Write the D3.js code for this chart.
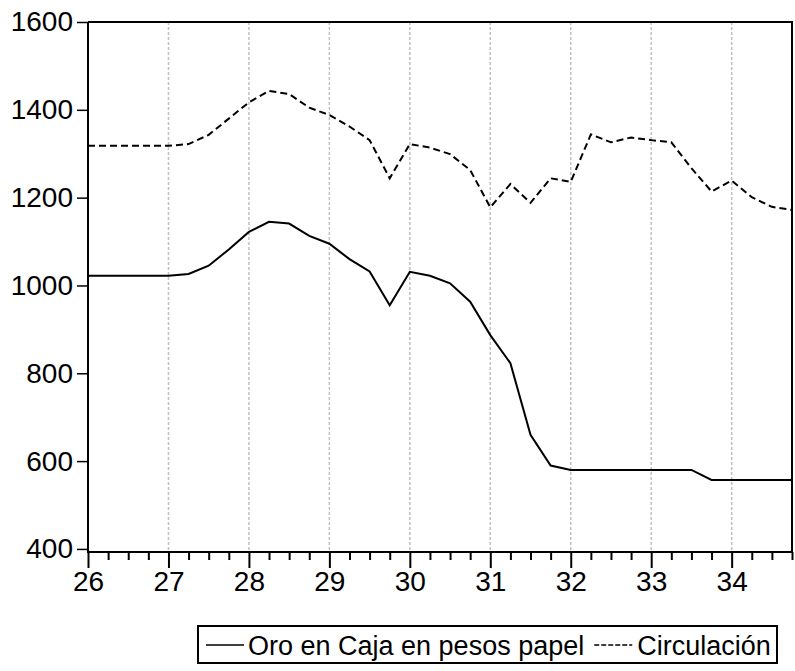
<!DOCTYPE html>
<html>
<head>
<meta charset="utf-8">
<script src="https://cdn.jsdelivr.net/npm/d3@7"></script>
<style>
  body { margin: 0; background: #fff; }
  svg { display: block; font-family: "Liberation Sans", Arial, sans-serif; }
</style>
</head>
<body>
<svg id="chart" width="795" height="671"></svg>
<script>
// quarterly observations, 1926Q1 .. 1934Q4 (x = year + (q-1)/4)
var quarters = d3.range(36).map(function (i) { return 26 + i / 4; });

var oro = [1022, 1022, 1022, 1022, 1022, 1026, 1045, 1082, 1122, 1145, 1141, 1113,
           1095, 1060, 1032, 955, 1031, 1022, 1005, 963, 887, 823, 660, 590,
           580, 580, 580, 580, 580, 580, 580, 557, 557, 557, 557, 557];

var circulacion = [1318, 1318, 1318, 1318, 1318, 1322, 1343, 1380, 1417, 1443, 1436, 1405,
                   1388, 1362, 1331, 1244, 1322, 1314, 1299, 1263, 1178, 1231, 1188, 1244,
                   1236, 1344, 1326, 1337, 1331, 1326, 1267, 1214, 1239, 1201, 1179, 1172];

var yearTicks = [26, 27, 28, 29, 30, 31, 32, 33, 34];
var yTicks = [400, 600, 800, 1000, 1200, 1400, 1600];
var legendLabels = ["Oro en Caja en pesos papel", "Circulación"];

var plotLeft = 88, plotRight = 792, plotTop = 22, plotBottom = 552;
var fontFam = '"Liberation Sans", Arial, sans-serif';

var svg = d3.select('#chart');

var x = d3.scaleLinear()
  .domain([26, 34.75])
  .range([plotLeft, plotRight]);

var y = d3.scaleLinear()
  .domain([393, 1600])
  .range([plotBottom, plotTop]);

// vertical grid at each year
svg.append('g')
  .selectAll('line')
  .data(yearTicks.slice(1))
  .enter().append('line')
    .attr('x1', function (d) { return x(d); })
    .attr('x2', function (d) { return x(d); })
    .attr('y1', plotTop)
    .attr('y2', plotBottom)
    .attr('stroke', '#c0c0c0')
    .attr('stroke-width', 1.5)
    .attr('stroke-dasharray', '3,2');

// frame top / right
svg.append('path')
  .attr('d', 'M' + plotLeft + ',' + plotTop + 'H' + plotRight + 'V' + plotBottom)
  .attr('fill', 'none')
  .attr('stroke', '#000')
  .attr('stroke-width', 2);

// y axis
var yAxis = d3.axisLeft(y)
  .tickValues(yTicks)
  .tickSize(11)
  .tickPadding(4)
  .tickFormat(d3.format('d'));

var ga = svg.append('g')
  .attr('transform', 'translate(' + plotLeft + ',0)')
  .call(yAxis);
ga.select('.domain').remove();
ga.append('line')
  .attr('x1', 0).attr('x2', 0)
  .attr('y1', plotTop).attr('y2', plotBottom + 1)
  .attr('stroke', '#000').attr('stroke-width', 2);
ga.selectAll('.tick line').attr('stroke-width', 1.5);
ga.selectAll('.tick text')
  .attr('font-size', 28)
  .attr('font-family', fontFam)
  .attr('fill', '#000');

// x axis: minor quarter ticks then major year ticks
var gx = svg.append('g')
  .attr('transform', 'translate(0,' + plotBottom + ')');

var xMinor = d3.axisBottom(x)
  .tickValues(quarters.filter(function (d) { return d % 1 !== 0; }))
  .tickSize(8)
  .tickFormat('');
gx.append('g').call(xMinor)
  .call(function (g) { g.select('.domain').remove(); })
  .selectAll('.tick line').attr('stroke-width', 2);

var xMajor = d3.axisBottom(x)
  .tickValues(yearTicks)
  .tickSize(16)
  .tickPadding(3)
  .tickFormat(d3.format('d'));
var gm = gx.append('g').call(xMajor);
gm.select('.domain').remove();
gm.selectAll('.tick line').attr('stroke-width', 2);
gm.selectAll('.tick text')
  .attr('font-size', 28)
  .attr('font-family', fontFam)
  .attr('fill', '#000');

gx.append('line')
  .attr('x1', plotLeft - 1).attr('x2', plotRight + 1)
  .attr('y1', 0).attr('y2', 0)
  .attr('stroke', '#000').attr('stroke-width', 2);

// series
var line = d3.line()
  .x(function (d, i) { return x(quarters[i]); })
  .y(function (d) { return y(d); });

svg.append('path')
  .datum(circulacion)
  .attr('d', line)
  .attr('fill', 'none')
  .attr('stroke', '#000')
  .attr('stroke-width', 2)
  .attr('stroke-dasharray', '7,4');

svg.append('path')
  .datum(oro)
  .attr('d', line)
  .attr('fill', 'none')
  .attr('stroke', '#000')
  .attr('stroke-width', 2);

// legend
var lg = svg.append('g');
lg.append('rect')
  .attr('x', 198).attr('y', 626)
  .attr('width', 579).attr('height', 37)
  .attr('fill', '#fff')
  .attr('stroke', '#000')
  .attr('stroke-width', 2);

lg.append('line')
  .attr('x1', 206).attr('x2', 244)
  .attr('y1', 645).attr('y2', 645)
  .attr('stroke', '#000').attr('stroke-width', 1.5);
var t1 = lg.append('text')
  .attr('x', 248).attr('y', 655)
  .attr('font-size', 27)
  .attr('font-family', fontFam)
  .text(legendLabels[0]);

var end1 = 248 + t1.node().getComputedTextLength();
lg.append('line')
  .attr('x1', end1 + 10).attr('x2', end1 + 48)
  .attr('y1', 645).attr('y2', 645)
  .attr('stroke', '#000').attr('stroke-width', 1.5)
  .attr('stroke-dasharray', '5,2');
lg.append('text')
  .attr('x', end1 + 53).attr('y', 655)
  .attr('font-size', 27)
  .attr('font-family', fontFam)
  .text(legendLabels[1]);
</script>
</body>
</html>
